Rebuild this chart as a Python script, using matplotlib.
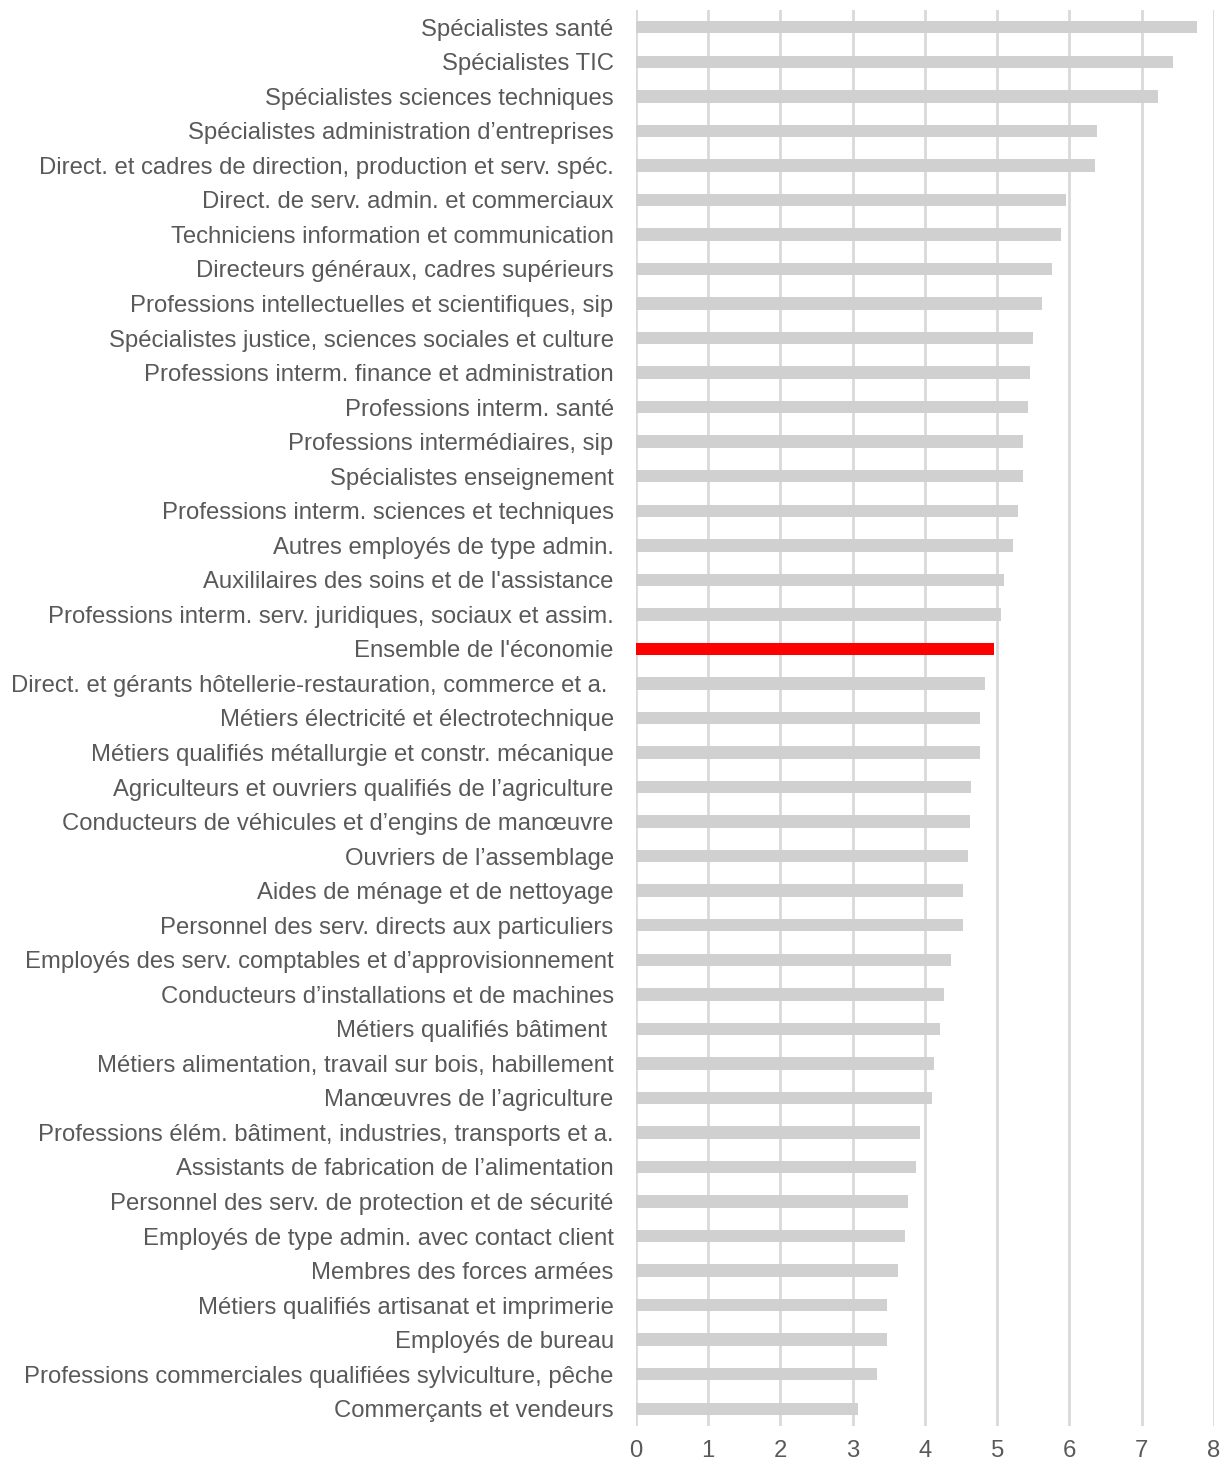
import matplotlib
matplotlib.use("Agg")
from matplotlib import pyplot as plt
import numpy as np

plt.rcParams['font.family'] = ['Liberation Sans', 'DejaVu Sans']

# categories, top to bottom as in the chart
categories = [
    "Spécialistes santé",
    "Spécialistes TIC",
    "Spécialistes sciences techniques",
    "Spécialistes administration d’entreprises",
    "Direct. et cadres de direction, production et serv. spéc.",
    "Direct. de serv. admin. et commerciaux",
    "Techniciens information et communication",
    "Directeurs généraux, cadres supérieurs",
    "Professions intellectuelles et scientifiques, sip",
    "Spécialistes justice, sciences sociales et culture",
    "Professions interm. finance et administration",
    "Professions interm. santé",
    "Professions intermédiaires, sip",
    "Spécialistes enseignement",
    "Professions interm. sciences et techniques",
    "Autres employés de type admin.",
    "Auxililaires des soins et de l'assistance",
    "Professions interm. serv. juridiques, sociaux et assim.",
    "Ensemble de l'économie",
    "Direct. et gérants hôtellerie-restauration, commerce et a. ",
    "Métiers électricité et électrotechnique",
    "Métiers qualifiés métallurgie et constr. mécanique",
    "Agriculteurs et ouvriers qualifiés de l’agriculture",
    "Conducteurs de véhicules et d’engins de manœuvre",
    "Ouvriers de l’assemblage",
    "Aides de ménage et de nettoyage",
    "Personnel des serv. directs aux particuliers",
    "Employés des serv. comptables et d’approvisionnement",
    "Conducteurs d’installations et de machines",
    "Métiers qualifiés bâtiment ",
    "Métiers alimentation, travail sur bois, habillement",
    "Manœuvres de l’agriculture",
    "Professions élém. bâtiment, industries, transports et a.",
    "Assistants de fabrication de l’alimentation",
    "Personnel des serv. de protection et de sécurité",
    "Employés de type admin. avec contact client",
    "Membres des forces armées",
    "Métiers qualifiés artisanat et imprimerie",
    "Employés de bureau",
    "Professions commerciales qualifiées sylviculture, pêche",
    "Commerçants et vendeurs",
]

values = [
    7.77, 7.43, 7.22, 6.38, 6.36, 5.95, 5.88, 5.76, 5.62, 5.50,
    5.45, 5.43, 5.36, 5.36, 5.29, 5.22, 5.10, 5.05, 4.95, 4.83,
    4.76, 4.76, 4.64, 4.62, 4.59, 4.52, 4.52, 4.36, 4.26, 4.21,
    4.12, 4.10, 3.93, 3.88, 3.76, 3.72, 3.63, 3.47, 3.47, 3.34,
    3.07,
]

highlight = "Ensemble de l'économie"
xticks = [0, 1, 2, 3, 4, 5, 6, 7, 8]

n = len(categories)
pos = np.arange(n)[::-1]
colors = ['#ff0000' if c == highlight else '#d0d0d0' for c in categories]

fig = plt.figure(figsize=(12.23, 14.65), dpi=100)
ax = fig.add_axes([0.520, 0.0266, 0.4726, 0.9666])

ax.barh(pos, values, height=0.36, color=colors, zorder=3)

ax.set_ylim(-0.5, n - 0.5)
ax.set_xlim(0, 8)
ax.set_yticks(pos)
ax.set_yticklabels(categories)
ax.set_xticks(xticks)
ax.tick_params(axis='y', length=0, pad=16, labelsize=17.2, labelcolor='#595959')
ax.tick_params(axis='x', length=0, pad=10, labelsize=17.2, labelcolor='#595959')

ax.grid(axis='x', color='#d9d9d9', linewidth=2, zorder=0)
for s in ax.spines.values():
    s.set_visible(False)

fig.savefig('out.png', dpi=100)
